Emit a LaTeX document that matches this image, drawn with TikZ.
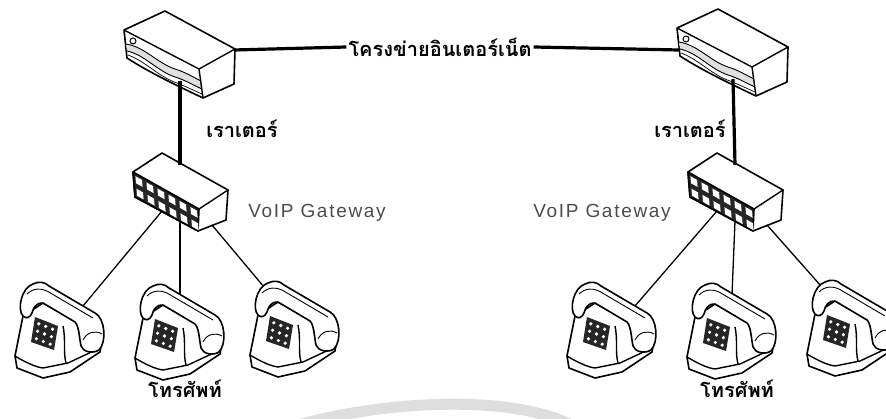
\documentclass[tikz,border=0pt]{standalone}
\usepackage{fontspec}
\usetikzlibrary{calc}
\newfontfamily\thaifont[Script=Thai]{Loma}
\newfontfamily\gwfont[LetterSpace=9]{Liberation Sans}
\begin{document}
\begin{tikzpicture}[x=1pt,y=-1pt,
  outline/.style={line width=1.6pt, line join=round, draw=black, fill=white},
  edge/.style={line width=1.4pt, line join=round},
  cable/.style={line width=3.2pt},
  wire/.style={line width=1.3pt},
  thai/.style={font=\thaifont\bfseries\fontsize{20}{22}\selectfont, inner sep=2pt},
  gwlabel/.style={font=\gwfont\fontsize{19}{22}\selectfont, text=black!70, inner sep=0pt},
  % router box, origin at the back top corner
  router/.pic={
    \path[outline] (-41,19) -- (0,0) -- (70,38) -- (69,73) -- (38,87)
       .. controls (15,76) and (-15,62) .. (-38,47) -- cycle;
    \fill[black!12] (-39,33) .. controls (-20,36) and (-8,52) .. (10,58)
       .. controls (20,61) and (28,66) .. (36,70) -- (37,78)
       .. controls (28,74) and (20,69) .. (10,66)
       .. controls (-8,60) and (-20,44) .. (-38,40) -- cycle;
    \draw[line width=0.9pt] (-39,33) .. controls (-20,36) and (-8,52) .. (10,58)
       .. controls (20,61) and (28,66) .. (36,70);
    \draw[line width=0.9pt] (-38,40) .. controls (-20,44) and (-8,60) .. (10,66)
       .. controls (20,69) and (28,74) .. (37,78);
    \draw[line width=0.7pt] (-37,44) .. controls (-20,50) and (-6,66) .. (12,72)
       .. controls (22,76) and (30,80) .. (37,83);
    \draw[line width=1pt] (-32,30) circle (3);
    \draw[edge] (-41,19) -- (34,58) -- (70,38);
    \draw[edge] (34,58) -- (38,87);
    \coordinate (-east) at (69,39);
    \coordinate (-west) at (-39,41);
    \coordinate (-south) at (15,70);
  },
  % VoIP gateway box with two rows of ports
  gateway/.pic={
    \path[outline] (-29,19) -- (0,0) -- (66,37) -- (64,67) -- (36,78) -- (-27,44) -- cycle;
    \draw[outline, fill=black!85] (-29,19) -- (37,56) -- (36,78) -- (-27,44) -- cycle;
    \draw[edge] (37,56) -- (66,37);
    \begin{scope}[shift={(-29,19)}, x={(66pt,-37pt)}, y={(2pt,-25pt)}]
      \foreach \i in {0,...,5} {
        \foreach \j in {0,1} {
          \pgfmathsetmacro\xa{(\i+0.2)/6}
          \pgfmathsetmacro\xb{(\i+0.8)/6}
          \pgfmathsetmacro\ya{\j/2+0.12}
          \pgfmathsetmacro\yb{\j/2+0.4}
          \fill[white] (\xa,\ya) -- (\xb,\ya) -- (\xb,\yb) -- (\xa,\yb) -- cycle;
        }
      }
    \end{scope}
    \coordinate (-north) at (18,12);
    \coordinate (-pl) at (0,58);
    \coordinate (-pm) at (18,68);
    \coordinate (-pr) at (50,72);
  },
  % desk telephone, origin at the top left of its extent
  phone/.pic={
    % body and base
    \path[outline] (10,36) -- (30,23) -- (64,42) -- (88,66) -- (87,72) -- (57,92)
       -- (30,98) -- (4,88) -- (2,76) -- cycle;
    \draw[edge] (2,76) .. controls (12,82) and (22,87) .. (30,88) -- (55,83) -- (87,68);
    \draw[edge] (50,46) .. controls (53,60) and (50,72) .. (53,83);
    % keypad
    \fill[black!85] (22,37) -- (45,46) -- (41,70) -- (18,62) -- cycle;
    \foreach \a in {0.2,0.5,0.8} {
      \foreach \b in {0.2,0.5,0.8} {
        \fill[white] ($(22,37)!\a!(45,46) + \b*(-4,25)$) circle (1.8);
      }
    }
    % handset
    \path[outline] (10,36) .. controls (4,30) and (8,8) .. (20,4)
       .. controls (26,1) and (32,2) .. (36,6)
       -- (82,33)
       .. controls (92,38) and (94,62) .. (86,70)
       .. controls (80,74) and (70,72) .. (68,66)
       .. controls (66,56) and (66,46) .. (62,42)
       -- (30,23)
       .. controls (24,22) and (20,28) .. (19,33)
       .. controls (17,38) and (13,39) .. (10,36) -- cycle;
    \draw[line width=0.9pt] (14,14) .. controls (20,8) and (28,8) .. (34,11) -- (80,38);
    \draw[line width=0.9pt] (70,60) .. controls (74,52) and (82,50) .. (89,54);
  }
]
\useasboundingbox (0,0) rectangle (886,419);
\fill[white] (0,0) rectangle (886,419);

% faint swoosh along the bottom
\draw[line width=11pt, black!13] (288,428) .. controls (380,400) and (520,392) .. (580,430);

% labels
\node[thai] (net) at (440,47) {โครงข่ายอินเตอร์เน็ต};
\node[thai] (rtl) at (242,129) {เราเตอร์};
\node[thai] (rtr) at (690,129) {เราเตอร์};
\node[gwlabel] (gwl) at (317,213) {VoIP Gateway};
\node[gwlabel] (gwr) at (602,213) {VoIP Gateway};
\node[thai] (tell) at (185,389) {โทรศัพท์};
\node[thai] (telr) at (737,389) {โทรศัพท์};

% placement of the telephones
\coordinate (p1) at (13,280);
\coordinate (p2) at (133,282);
\coordinate (p3) at (248,279);
\coordinate (p4) at (565,280);
\coordinate (p5) at (685,281);
\coordinate (p6) at (805,278);

% routers and gateways
\path (165,11) pic (rl) {router};
\path (718,9) pic (rr) {router};
\path (162,153) pic (gl) {gateway};
\path (717,153) pic (gr) {gateway};

% cables
\draw[cable] (rl-east) -- (net.west);
\draw[cable] (net.east) -- (rr-west);
\draw[cable] (rl-south) -- (gl-north);
\draw[cable] (rr-south) -- (gr-north);

% telephone lines, drawn under the sets
\draw[wire] (gl-pl) -- ($(p1)+(70,26)$);
\draw[wire] (gl-pm) -- ($(p2)+(47,14)$);
\draw[wire] (gl-pr) -- ($(p3)+(16,8)$);
\draw[wire] (gr-pl) -- ($(p4)+(70,26)$);
\draw[wire] (gr-pm) -- ($(p5)+(47,14)$);
\draw[wire] (gr-pr) -- ($(p6)+(16,8)$);

% telephones
\path (p1) pic (t1) {phone};
\path (p2) pic (t2) {phone};
\path (p3) pic (t3) {phone};
\path (p4) pic (t4) {phone};
\path (p5) pic (t5) {phone};
\path (p6) pic (t6) {phone};
\end{tikzpicture}
\end{document}
